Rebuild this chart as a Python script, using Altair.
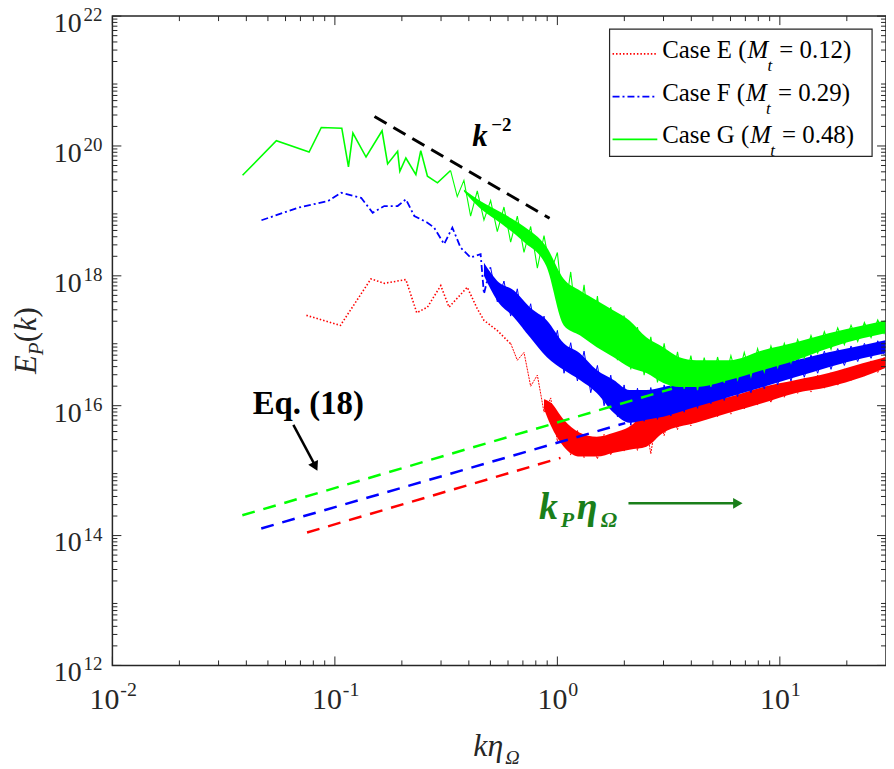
import altair as alt
import pandas as pd

# ---------------- values (log10 of k*eta and of E_P) ----------------
# Case E (M_t = 0.12), red dotted: resolved low-k part
E_lk = [-1.128, -0.975, -0.838, -0.778, -0.681, -0.632, -0.584, -0.524, -0.487, -0.405,
        -0.360, -0.330, -0.271, -0.211]
E_lE = [17.391, 17.237, 17.953, 17.885, 17.942, 17.432, 17.518, 17.850, 17.518, 17.824,
        17.493, 17.314, 17.161, 16.957]
# Case E noisy high-k part
E_zz_lk = [-0.21, -0.18, -0.15, -0.12, -0.09, -0.06, -0.03, 0.00, 0.03, 0.06, 0.09, 0.12, 0.15, 0.18,
           0.21, 0.24, 0.27, 0.30, 0.33, 0.36, 0.39, 0.42, 0.45, 0.48, 0.51, 0.54, 0.57, 0.60, 0.63,
           0.66, 0.69, 0.72, 0.75, 0.78, 0.81, 0.84, 0.87, 0.90, 0.93, 0.96, 0.99, 1.02, 1.05, 1.08,
           1.11, 1.14, 1.17, 1.20, 1.23, 1.26, 1.29, 1.32, 1.35, 1.38, 1.41, 1.44, 1.47]
E_zz_lE = [16.96, 16.70, 16.82, 16.30, 16.47, 15.90, 16.12, 15.45, 15.78, 15.24, 15.62, 15.20, 15.48,
           15.18, 15.56, 15.24, 15.58, 15.30, 15.72, 15.31, 15.86, 15.26, 15.92, 15.54, 15.96, 15.63,
           16.02, 15.69, 16.05, 15.78, 16.07, 15.83, 16.13, 15.87, 16.19, 15.95, 16.22, 16.01, 16.29,
           16.05, 16.33, 16.13, 16.37, 16.19, 16.43, 16.21, 16.47, 16.27, 16.51, 16.31, 16.57, 16.39,
           16.61, 16.45, 16.69, 16.51, 16.75]
E_band_lk = [-0.06, -0.03, 0.029, 0.101, 0.177, 0.253, 0.324, 0.400, 0.476, 0.624, 0.772, 0.924, 1.072, 1.219, 1.372, 1.474]
E_band_hi = [16.10, 16.05, 15.783, 15.583, 15.522, 15.583, 15.675, 15.890, 15.936, 16.043, 16.135, 16.288, 16.395, 16.502, 16.655, 16.747]
E_band_lo = [15.95, 15.70, 15.369, 15.216, 15.216, 15.277, 15.323, 15.369, 15.583, 15.737, 15.890, 16.043, 16.196, 16.288, 16.441, 16.579]

# Case F (M_t = 0.29), blue dash-dot
F_lk = [-1.330, -1.166, -1.031, -0.972, -0.882, -0.830, -0.778, -0.718, -0.681, -0.643,
        -0.584, -0.554, -0.509, -0.472, -0.435, -0.390, -0.345, -0.330, -0.301]
F_lE = [18.856, 19.049, 19.152, 19.279, 19.202, 18.972, 19.075, 19.075, 19.178, 18.922,
        18.819, 18.743, 18.489, 18.743, 18.436, 18.283, 18.335, 17.723, 18.130]
F_zz_lk = [-0.30, -0.27, -0.24, -0.21, -0.18, -0.15, -0.12, -0.09, -0.06, -0.03, 0.00, 0.03, 0.06, 0.09,
           0.12, 0.15, 0.18, 0.21, 0.24, 0.27, 0.30, 0.33, 0.36, 0.39, 0.42, 0.45, 0.48, 0.51, 0.54,
           0.57, 0.60, 0.63, 0.66, 0.69, 0.72, 0.75, 0.78, 0.81, 0.84, 0.87, 0.90, 0.93, 0.96, 0.99,
           1.02, 1.05, 1.08, 1.11, 1.14, 1.17, 1.20, 1.23, 1.26, 1.29, 1.32, 1.35, 1.38, 1.41, 1.44, 1.47]
F_zz_lE = [18.13, 17.60, 17.92, 17.38, 17.80, 17.18, 17.57, 16.96, 17.38, 16.72, 17.16, 16.50, 16.97,
           16.38, 16.84, 16.20, 16.62, 16.00, 16.47, 15.83, 16.32, 15.70, 16.27, 15.76, 16.28, 15.79,
           16.32, 15.84, 16.36, 15.90, 16.40, 15.96, 16.44, 16.03, 16.48, 16.08, 16.52, 16.14, 16.56,
           16.20, 16.60, 16.26, 16.64, 16.32, 16.68, 16.38, 16.74, 16.44, 16.78, 16.50, 16.84, 16.56,
           16.88, 16.62, 16.92, 16.68, 16.96, 16.73, 17.00, 16.78]
F_band_lk = [-0.33, -0.271, -0.195, -0.123, -0.047, 0.029, 0.101, 0.177, 0.253, 0.324, 0.400, 0.476, 0.624, 0.772, 0.924, 1.072, 1.219, 1.372, 1.474]
F_band_hi = [18.20, 17.926, 17.773, 17.513, 17.314, 16.962, 16.809, 16.548, 16.395, 16.242, 16.242, 16.288, 16.395, 16.502, 16.594, 16.701, 16.824, 16.931, 17.008]
F_band_lo = [18.00, 17.620, 17.360, 17.054, 16.747, 16.548, 16.395, 16.196, 15.890, 15.737, 15.783, 15.829, 15.982, 16.135, 16.288, 16.441, 16.594, 16.732, 16.809]

# Case G (M_t = 0.48), green solid
G_lk = [-1.415, -1.263, -1.116, -1.061, -0.969, -0.939, -0.919, -0.860, -0.788, -0.763,
        -0.718, -0.708, -0.681, -0.636, -0.614, -0.584, -0.539, -0.480]
G_lE = [19.550, 20.080, 19.907, 20.285, 20.274, 19.677, 20.198, 19.830, 20.234, 19.723,
        19.917, 19.611, 19.815, 19.560, 19.928, 19.534, 19.432, 19.622]
G_zz_lk = [-0.48, -0.45, -0.42, -0.39, -0.36, -0.33, -0.30, -0.27, -0.24, -0.21, -0.18, -0.15, -0.12,
           -0.09, -0.06, -0.03, 0.00, 0.03, 0.06, 0.09, 0.12, 0.15, 0.18, 0.21, 0.24, 0.27, 0.30, 0.33,
           0.36, 0.39, 0.42, 0.45, 0.48, 0.51, 0.54, 0.57, 0.60, 0.63, 0.66, 0.69, 0.72, 0.75, 0.78,
           0.81, 0.84, 0.87, 0.90, 0.93, 0.96, 0.99, 1.02, 1.05, 1.08, 1.11, 1.14, 1.17, 1.20, 1.23,
           1.26, 1.29, 1.32, 1.35, 1.38, 1.41, 1.44, 1.47]
G_zz_lE = [19.62, 19.22, 19.47, 18.92, 19.31, 18.86, 19.16, 18.68, 19.06, 18.52, 18.92, 18.36, 18.76,
           18.12, 18.62, 18.06, 18.36, 17.38, 18.06, 17.14, 17.86, 16.98, 17.69, 16.86, 17.52, 16.70,
           17.39, 16.56, 17.21, 16.47, 17.06, 16.36, 16.96, 16.29, 16.83, 16.26, 16.77, 16.24, 16.74,
           16.29, 16.75, 16.35, 16.77, 16.40, 16.82, 16.45, 16.88, 16.52, 16.92, 16.59, 16.96, 16.66,
           17.02, 16.73, 17.08, 16.81, 17.14, 16.87, 17.20, 16.94, 17.24, 16.99, 17.28, 17.05, 17.32, 17.10]
G_band_lk = [-0.42, -0.35, -0.25, -0.15, -0.05, 0.029, 0.101, 0.177, 0.253, 0.324, 0.400, 0.476, 0.548, 0.624, 0.772, 0.924, 1.072, 1.219, 1.372, 1.474]
G_band_hi = [19.33, 19.16, 18.97, 18.76, 18.45, 17.950, 17.773, 17.620, 17.467, 17.314, 17.054, 16.901, 16.747, 16.701, 16.701, 16.855, 16.977, 17.115, 17.237, 17.314]
G_band_lo = [19.30, 19.05, 18.80, 18.52, 18.15, 17.237, 17.085, 16.901, 16.747, 16.594, 16.502, 16.349, 16.288, 16.288, 16.395, 16.548, 16.701, 16.885, 17.038, 17.115]

# Eq. (18) model lines (start, end)
EQ_E_lk = [-1.125, 0.014];  EQ_E_lE = [14.047, 15.196]
EQ_F_lk = [-1.331, 0.305];  EQ_F_lE = [14.109, 15.732]
EQ_G_lk = [-1.416, 0.515];  EQ_G_lE = [14.312, 16.262]
# k^-2 reference slope
K2_lk = [-0.822, -0.035];   K2_lE = [20.453, 18.887]

# axis ticks
X_MAJOR = [0.01, 0.1, 1, 10]
X_EXP = ["-2", "-1", "0", "1"]
Y_MAJOR = [1e12, 1e14, 1e16, 1e18, 1e20, 1e22]
Y_EXP = ["12", "14", "16", "18", "20", "22"]

LEGEND_CASES = ["Case E (", "Case F (", "Case G ("]
LEGEND_MT = ["= 0.12)", "= 0.29)", "= 0.48)"]

# ---------------- layout / style ----------------
OX, OY = 113, 14
W, H = 778, 653
SERIF = "Liberation Serif"
FRAME = "#262626"
RED, BLUE, GREEN = "#ff0000", "#0000ff", "#00ff00"
DKGREEN = "#1a7f1a"
LEG_FS = 25
# Times-metric advance widths (em) of the legend prefixes, used only to place the following pieces
PREFIX_EM = [3.388, 3.333, 3.499]

xs = alt.Scale(type="log", domain=[0.01, 30])
ys = alt.Scale(type="log", domain=[1e12, 1e22])


def X(f):
    return alt.X(f, type="quantitative", scale=xs, axis=None)


def Y(f):
    return alt.Y(f, type="quantitative", scale=ys, axis=None)


def series_df(lk, lE):
    return pd.DataFrame({"k": [10 ** v for v in lk], "E": [10 ** v for v in lE], "i": list(range(len(lk)))})


def band_df(lk, hi, lo):
    return pd.DataFrame({"k": [10 ** v for v in lk], "hi": [10 ** v for v in hi], "lo": [10 ** v for v in lo]})


one = pd.DataFrame({"a": [0]})


def txt(s, px, py, size, color="black", style="normal", weight="normal", align="left",
        baseline="alphabetic", angle=0):
    return alt.Chart(one).mark_text(text=s, font=SERIF, fontSize=size, color=color, fontStyle=style,
                                    fontWeight=weight, align=align, baseline=baseline, angle=angle
                                    ).encode(x=alt.value(px - OX), y=alt.value(py - OY))


def seg(x1, y1, x2, y2, color, width=2, dash=None):
    kw = dict(color=color, strokeWidth=width)
    if dash:
        kw["strokeDash"] = dash
    return alt.Chart(one).mark_rule(**kw).encode(x=alt.value(x1 - OX), y=alt.value(y1 - OY),
                                                x2=alt.value(x2 - OX), y2=alt.value(y2 - OY))


def line(lk, lE, color, width, dash=None):
    kw = dict(color=color, strokeWidth=width)
    if dash:
        kw["strokeDash"] = dash
    return alt.Chart(series_df(lk, lE)).mark_line(**kw).encode(x=X("k"), y=Y("E"), order="i:Q")


def band(lk, hi, lo, color):
    return alt.Chart(band_df(lk, hi, lo)).mark_area(color=color, opacity=1, interpolate="monotone").encode(
        x=X("k"), y=Y("hi"), y2=alt.Y2("lo"))


layers = [
    # Case E
    band(E_band_lk, E_band_hi, E_band_lo, RED),
    line(E_zz_lk, E_zz_lE, RED, 1.0, [2, 1]),
    line(E_lk, E_lE, RED, 1.6, [1.5, 2]),
    # Case F
    band(F_band_lk, F_band_hi, F_band_lo, BLUE),
    line(F_zz_lk, F_zz_lE, BLUE, 1.0),
    line(F_lk, F_lE, BLUE, 1.8, [7, 3, 2, 3]),
    # Case G
    band(G_band_lk, G_band_hi, G_band_lo, GREEN),
    line(G_zz_lk, G_zz_lE, GREEN, 1.1),
    line(G_lk, G_lE, GREEN, 1.6),
]
# Eq. (18) dashed lines
for lk, lE, c in [(EQ_G_lk, EQ_G_lE, GREEN), (EQ_F_lk, EQ_F_lE, BLUE), (EQ_E_lk, EQ_E_lE, RED)]:
    layers.append(line(lk, lE, c, 2.5, [13, 9]))
# k^-2 line
layers.append(line(K2_lk, K2_lE, "black", 3, [14, 8]))

# ticks (inside, all four sides)
x_minor = [m * d for d in (0.01, 0.1, 1) for m in range(2, 10)] + [20]
y_minor = [m * 10 ** e for e in range(12, 22) for m in range(2, 10)]
for vals, ln in [(X_MAJOR, 9), (x_minor, 5)]:
    d = pd.DataFrame({"v": vals})
    layers.append(alt.Chart(d).mark_rule(color=FRAME, strokeWidth=1).encode(x=X("v"), y=alt.value(H), y2=alt.value(H - ln)))
    layers.append(alt.Chart(d).mark_rule(color=FRAME, strokeWidth=1).encode(x=X("v"), y=alt.value(0), y2=alt.value(ln)))
for vals, ln in [(Y_MAJOR, 9), (y_minor, 5)]:
    d = pd.DataFrame({"v": vals})
    layers.append(alt.Chart(d).mark_rule(color=FRAME, strokeWidth=1).encode(y=Y("v"), x=alt.value(0), x2=alt.value(ln)))
    layers.append(alt.Chart(d).mark_rule(color=FRAME, strokeWidth=1).encode(y=Y("v"), x=alt.value(W), x2=alt.value(W - ln)))

# tick labels
ydf = pd.DataFrame({"v": Y_MAJOR, "e": Y_EXP})
layers.append(alt.Chart(ydf).mark_text(text="10", font=SERIF, fontSize=28, align="right", baseline="middle", dy=8,
                                       color=FRAME).encode(x=alt.value(82 - OX), y=Y("v")))
layers.append(alt.Chart(ydf).mark_text(font=SERIF, fontSize=19, align="left", baseline="middle", dy=-1,
                                       color=FRAME).encode(x=alt.value(84 - OX), y=Y("v"), text="e:N"))
xdf = pd.DataFrame({"v": X_MAJOR, "e": X_EXP})
xneg = xdf[xdf["e"].str.startswith("-")]
xpos = xdf[~xdf["e"].str.startswith("-")]
for d, off in [(xneg, 7), (xpos, 10)]:
    layers.append(alt.Chart(d).mark_text(text="10", font=SERIF, fontSize=30, align="right", baseline="middle", dx=off,
                                         color=FRAME).encode(x=X("v"), y=alt.value(702 - OY)))
    layers.append(alt.Chart(d).mark_text(font=SERIF, fontSize=20, align="left", baseline="middle", dx=off + 1,
                                         color=FRAME).encode(x=X("v"), y=alt.value(692 - OY), text="e:N"))

# axis titles
layers += [
    txt("k\u03b7", 476, 758, 32, FRAME, style="italic"),
    txt("\u03a9", 508, 766, 20, FRAME, style="italic"),
    txt("E", 36, 374, 31, FRAME, style="italic", angle=270),
    txt("P", 43, 355, 21, FRAME, style="italic", angle=270),
    txt("(", 36, 342, 31, FRAME, angle=270),
    txt("k", 36, 331, 31, FRAME, style="italic", angle=270),
    txt(")", 36, 317, 31, FRAME, angle=270),
]

# annotations
layers += [
    txt("k", 475, 145, 31, "black", style="italic", weight="bold"),
    txt("\u22122", 494, 130, 19, "black", weight="bold"),
    txt("Eq. (18)", 310, 404, 33, "black", weight="bold", align="center", baseline="middle"),
    seg(295, 425, 318, 468, "black", 2.5),
    alt.Chart(one).mark_point(shape="triangle-up", angle=153, filled=True, size=120, color="black", opacity=1).encode(
        x=alt.value(317 - OX), y=alt.value(467 - OY)),
    txt("k", 542, 520, 38, DKGREEN, style="italic", weight="bold"),
    txt("P", 564, 528, 22, DKGREEN, style="italic", weight="bold"),
    txt("\u03b7", 580, 520, 38, DKGREEN, style="italic", weight="bold"),
    txt("\u03a9", 604, 528, 22, DKGREEN, style="italic", weight="bold"),
    seg(632, 504, 740, 504, DKGREEN, 2.5),
    alt.Chart(one).mark_point(shape="triangle-up", angle=90, filled=True, size=120, color=DKGREEN, opacity=1).encode(
        x=alt.value(742 - OX), y=alt.value(504 - OY)),
]

# legend
layers.append(alt.Chart(one).mark_rect(fill="white", stroke=FRAME, strokeWidth=1.2).encode(
    x=alt.value(613 - OX), x2=alt.value(877 - OX), y=alt.value(27 - OY), y2=alt.value(155 - OY)))
leg_style = [(RED, [1.5, 2]), (BLUE, [7, 3, 2, 3]), (GREEN, None)]
for i, (c, dash) in enumerate(leg_style):
    base_y = 56 + 43 * i
    m_x = 666 + PREFIX_EM[i] * LEG_FS + 1
    layers.append(seg(616, base_y - 4, 661, base_y - 4, c, 1.8, dash))
    layers.append(txt(LEGEND_CASES[i], 666, base_y, LEG_FS))
    layers.append(txt("M", m_x, base_y, LEG_FS, style="italic"))
    layers.append(txt("t", m_x + 20, base_y + 13, 17, style="italic"))
    layers.append(txt(LEGEND_MT[i], m_x + 32, base_y, LEG_FS))

chart = alt.layer(*layers).properties(
    width=W, height=H, autosize="none",
    padding={"left": OX - 8, "top": OY - 8, "right": 0, "bottom": 102},
).configure_view(stroke=FRAME, strokeWidth=1.5)

chart.save("out.html", embed_options={"renderer": "svg", "actions": False})
